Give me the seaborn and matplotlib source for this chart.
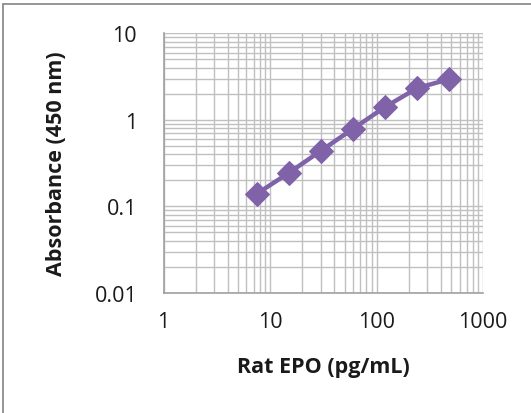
import numpy as np
import pandas as pd
import seaborn as sns
import matplotlib.pyplot as plt
from matplotlib.lines import Line2D
from matplotlib.ticker import LogLocator, FixedLocator, FixedFormatter, NullFormatter

# standard curve
epo_conc = [7.5, 15, 30, 60, 120, 240, 480]
absorbance = [0.14, 0.244, 0.44, 0.79, 1.41, 2.33, 2.96]

x_ticks = [1, 10, 100, 1000]
x_labels = ["1", "10", "100", "1000"]
y_ticks = [0.01, 0.1, 1, 10]
y_labels = ["0.01", "0.1", "1", "10"]

df = pd.DataFrame({"conc": epo_conc, "abs": absorbance})

sns.set_style("white")
plt.rcParams["font.family"] = ["Open Sans", "DejaVu Sans"]

grid_col = "#c0c0c0"
axis_col = "#a0a0a0"
purple = "#7f62a8"

fig = plt.figure(figsize=(5.31, 4.14), dpi=100)
ax = fig.add_axes([0.308, 0.290, 0.602, 0.627])

sns.lineplot(data=df, x="conc", y="abs", ax=ax, color=purple, linewidth=3.2,
             marker="D", markersize=12.5, markeredgecolor=purple)

ax.set_xscale("log")
ax.set_yscale("log")
ax.set_xlim(1, 1000)
ax.set_ylim(0.01, 10)

ax.xaxis.set_major_locator(FixedLocator(x_ticks))
ax.xaxis.set_major_formatter(FixedFormatter(x_labels))
ax.yaxis.set_major_locator(FixedLocator(y_ticks))
ax.yaxis.set_major_formatter(FixedFormatter(y_labels))
ax.xaxis.set_minor_locator(LogLocator(base=10, subs=np.arange(2, 10)))
ax.yaxis.set_minor_locator(LogLocator(base=10, subs=np.arange(2, 10)))
ax.xaxis.set_minor_formatter(NullFormatter())
ax.yaxis.set_minor_formatter(NullFormatter())

ax.grid(True, which="both", color=grid_col, linewidth=1.0)
ax.set_axisbelow(True)

for side in ["top", "right"]:
    ax.spines[side].set_visible(False)
for side in ["left", "bottom"]:
    ax.spines[side].set_color(axis_col)
    ax.spines[side].set_linewidth(1.2)

ax.tick_params(axis="both", which="major", direction="out", length=5,
               width=1.2, color=axis_col, labelsize=15.5, labelcolor="#1a1a1a")
ax.tick_params(axis="y", which="major", pad=14)
ax.tick_params(axis="x", which="major", pad=8)
ax.tick_params(axis="both", which="minor", length=0)

ax.set_xlabel("Rat EPO (pg/mL)", fontsize=15.5, fontweight="bold", color="#1a1a1a")
ax.set_ylabel("Absorbance (450 nm)", fontsize=15.5, fontweight="bold", color="#1a1a1a")
ax.xaxis.label.set_va("center")
ax.yaxis.label.set_va("center")
ax.xaxis.set_label_coords(0.5, -0.285)
ax.yaxis.set_label_coords(-0.336, 0.5)

# chart frame: only the top and left edges show in the crop
fig.add_artist(Line2D([0.0058, 0.0058], [0, 0.988], transform=fig.transFigure,
                      color="#8c8c8c", linewidth=1.3))
fig.add_artist(Line2D([0.0058, 1.0], [0.988, 0.988], transform=fig.transFigure,
                      color="#8c8c8c", linewidth=1.3))

fig.savefig("out.png", dpi=100)
